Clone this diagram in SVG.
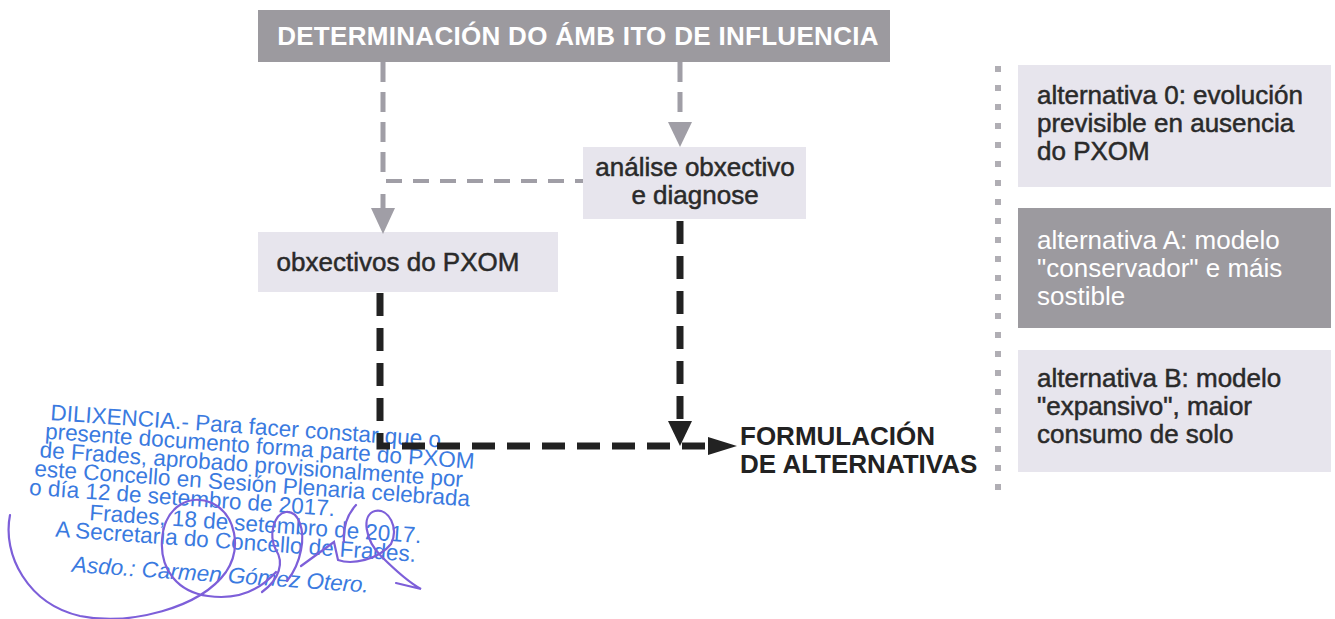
<svg xmlns="http://www.w3.org/2000/svg" width="1335" height="619" viewBox="0 0 1335 619">
<defs>
<style>
.title{font-family:"Liberation Sans",Arial,sans-serif;font-size:26px;font-weight:bold;fill:#ffffff;letter-spacing:0.3px;}
.lbl{font-family:"Liberation Sans",Arial,sans-serif;font-size:26px;fill:#2a2a2a;stroke:#2a2a2a;stroke-width:0.5;}
.lblw{font-family:"Liberation Sans",Arial,sans-serif;font-size:26px;fill:#ffffff;}
.big{font-family:"Liberation Sans",Arial,sans-serif;font-size:26px;font-weight:bold;fill:#222222;}
.light{fill:#e7e5ed;}
.dark{fill:#9c9a9f;}
.gline{fill:none;stroke:#a09ea6;stroke-width:5;stroke-dasharray:20 10;}
.gline2{fill:none;stroke:#a09ea6;stroke-width:4;stroke-dasharray:16 11;}
.bline{fill:none;stroke:#222222;stroke-width:7;stroke-dasharray:23 12;}
.ghead{fill:#a09ea6;}
.bhead{fill:#222222;}
.dots{fill:none;stroke:#b0aeb4;stroke-width:6;stroke-dasharray:6 13;}
.stamp{font-family:"Liberation Sans",Arial,sans-serif;font-size:22.5px;fill:#3a7ae0;}
.sig{fill:none;stroke:#7d5fd9;stroke-width:2.2;stroke-linecap:round;}
</style>
</defs>
<rect width="1335" height="619" fill="#ffffff"/>

<g id="node-ambito">
<rect class="dark" x="258" y="10" width="632" height="52"/>
<text class="title" x="578" y="45" text-anchor="middle">DETERMINACIÓN DO ÁMB ITO DE INFLUENCIA</text>
</g>

<g id="node-analise">
<rect class="light" x="583" y="147" width="223" height="72"/>
<text class="lbl" x="695" y="176" text-anchor="middle">análise obxectivo</text>
<text class="lbl" x="695" y="204" text-anchor="middle">e diagnose</text>
</g>

<g id="node-obxectivos">
<rect class="light" x="258" y="232" width="300" height="60"/>
<text class="lbl" x="398" y="271" text-anchor="middle">obxectivos do PXOM</text>
</g>

<g id="node-formulacion">
<text class="big" x="740" y="445">FORMULACIÓN</text>
<text class="big" x="740" y="473">DE ALTERNATIVAS</text>
</g>

<g id="node-alt0">
<rect class="light" x="1018" y="65" width="313" height="122"/>
<text class="lbl" x="1037" y="104">alternativa 0: evolución</text>
<text class="lbl" x="1037" y="132">previsible en ausencia</text>
<text class="lbl" x="1037" y="160">do PXOM</text>
</g>

<g id="node-altA">
<rect class="dark" x="1018" y="208" width="313" height="120"/>
<text class="lblw" x="1037" y="249">alternativa A: modelo</text>
<text class="lblw" x="1037" y="277">"conservador" e máis</text>
<text class="lblw" x="1037" y="305">sostible</text>
</g>

<g id="node-altB">
<rect class="light" x="1018" y="350" width="313" height="122"/>
<text class="lbl" x="1037" y="387">alternativa B: modelo</text>
<text class="lbl" x="1037" y="415">"expansivo", maior</text>
<text class="lbl" x="1037" y="443">consumo de solo</text>
</g>

<g id="stamp">
<g transform="rotate(4 50 420)">
<text class="stamp" x="50" y="420">DILIXENCIA.- Para facer constar que o</text>
<text class="stamp" x="46" y="439">presente documento forma parte do PXOM</text>
<text class="stamp" x="42" y="458">de Frades, aprobado provisionalmente por</text>
<text class="stamp" x="38" y="477">este Concello en Sesión Plenaria celebrada</text>
<text class="stamp" x="34" y="496">o día 12 de setembro de 2017.</text>
<text class="stamp" x="96" y="517">Frades, 18 de setembro de 2017.</text>
<text class="stamp" x="63" y="536">A Secretaria do Concello de Frades.</text>
<text class="stamp" x="82" y="570" font-style="italic">Asdo.: Carmen Gómez Otero.</text>
</g>
</g>

<g id="connectors">
<path class="gline" d="M383 62 V180"/>
<path class="gline" d="M383 194 V210"/>
<polygon class="ghead" points="371,208 395,208 383,234"/>
<path class="gline2" d="M386 181 H583"/>
<path class="gline" d="M680 62 V124"/>
<polygon class="ghead" points="668,122 692,122 680,147"/>
<path class="bline" d="M380 293 V446 H708"/>
<path class="bline" d="M680 221 V422"/>
<polygon class="bhead" points="668,421 692,421 680,446"/>
<polygon class="bhead" points="708,437 708,455 737,446"/>
<path class="dots" d="M998 66 V490"/>
</g>

<g id="signature">
<path class="sig" d="M10 515 C2 555 28 604 80 616 C130 626 200 608 226 572 C242 548 236 515 212 503 C188 493 164 508 162 540 C160 570 178 592 208 596 C235 600 258 592 276 572"/>
<path class="sig" d="M262 592 C280 579 284 562 276 550 C268 535 274 514 286 512 C299 511 305 530 301 550 C298 566 291 576 287 581"/>
<path class="sig" d="M301 566 L334 542 L338 560 C352 565 378 560 391 544 C399 528 389 508 375 511 C361 515 365 540 381 556 C396 571 410 583 421 589 L396 583"/>
<path class="sig" d="M356 505 C347 515 343 528 344 542"/>
</g>
</svg>
